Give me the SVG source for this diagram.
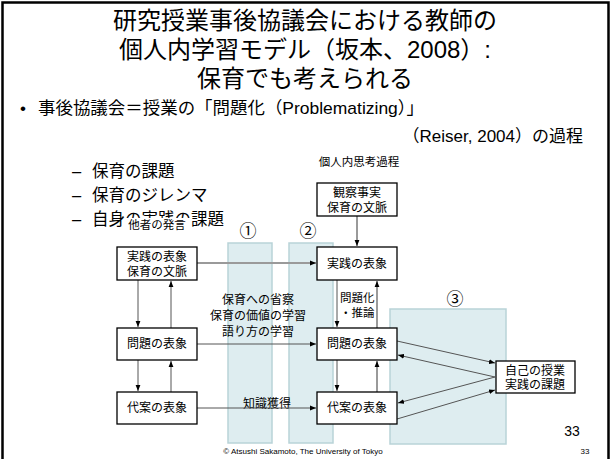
<svg xmlns="http://www.w3.org/2000/svg" width="610" height="459" viewBox="0 0 610 459">
<style>
text{font-family:"Liberation Sans","Noto Sans CJK JP",sans-serif;fill:#000}
.title{font-size:24px;text-anchor:middle}
.body{font-size:17px}
.sub{font-size:16.5px}
.lbl{font-size:11.5px}
.nt{font-size:12px;text-anchor:middle}
.box{fill:#fff;stroke:#000;stroke-width:1.3}
.zone{fill:#deedf0;stroke:#b9d3d8;stroke-width:1.5}
.c{fill:none;stroke:#555;stroke-width:1}
.g{fill:none;stroke:#9a9a9a;stroke-width:2}
</style>
<defs>
<marker id="ah" viewBox="0 0 10 10" refX="10" refY="5" markerWidth="6" markerHeight="6" orient="auto" markerUnits="userSpaceOnUse">
<path d="M0,1 L10,5 L0,9 z" fill="#000"/>
</marker>
</defs>
<rect x="0" y="0" width="610" height="459" fill="#fff"/>
<rect x="2.5" y="2.5" width="606" height="470" fill="none" stroke="#000" stroke-width="2.5"/>

<g id="title">
<text class="title" x="305" y="29">研究授業事後協議会における教師の</text>
<text class="title" x="305" y="58">個人内学習モデル（坂本、2008）:</text>
<text class="title" x="305" y="87">保育でも考えられる</text>
</g>
<g id="bullets">
<text class="body" x="20" y="114">•</text>
<text class="body" x="38" y="114" textLength="386" lengthAdjust="spacingAndGlyphs">事後協議会＝授業の「問題化（Problematizing）」</text>
<text class="body" x="583" y="142" text-anchor="end">（Reiser, 2004）の過程</text>
<text class="sub" x="72" y="177">–</text>
<text class="sub" x="92" y="177">保育の課題</text>
<text class="sub" x="72" y="201">–</text>
<text class="sub" x="92" y="201">保育のジレンマ</text>
<text class="sub" x="72" y="225">–</text>
<text class="sub" x="92" y="225">自身の実践の課題</text>
</g>

<g id="zones">
<rect class="zone" x="228" y="243" width="44" height="200"/>
<rect class="zone" x="289" y="243" width="44" height="200"/>
<rect class="zone" x="390" y="309" width="116" height="135"/>
<text x="248" y="237" font-size="17" text-anchor="middle">①</text>
<text x="308" y="237" font-size="17" text-anchor="middle">②</text>
<text x="455" y="305" font-size="17" text-anchor="middle">③</text>
</g>

<g id="labels">
<rect x="125" y="218" width="65" height="14" fill="#fff"/>
<text class="lbl" x="157" y="229" text-anchor="middle">他者の発言</text>
<text class="lbl" x="359" y="166" text-anchor="middle">個人内思考過程</text>
<text class="nt" x="258" y="304">保育への省察</text>
<text class="nt" x="258" y="320">保育の価値の学習</text>
<text class="nt" x="258" y="336">語り方の学習</text>
<text class="nt" x="267" y="408">知識獲得</text>
</g>

<g id="connectors">
<line class="g" x1="357" y1="216" x2="357" y2="246" marker-end="url(#ah)"/>
<line class="g" x1="197" y1="263" x2="316" y2="263" marker-end="url(#ah)"/>
<line class="c" x1="197" y1="344" x2="316" y2="344" marker-end="url(#ah)"/>
<line class="c" x1="197" y1="408" x2="316" y2="408" marker-end="url(#ah)"/>
<line class="c" x1="138" y1="280" x2="138" y2="327" marker-end="url(#ah)"/>
<line class="c" x1="171" y1="328" x2="171" y2="281" marker-end="url(#ah)"/>
<line class="c" x1="138" y1="360" x2="138" y2="391" marker-end="url(#ah)"/>
<line class="c" x1="171" y1="392" x2="171" y2="361" marker-end="url(#ah)"/>
<line class="c" x1="337" y1="280" x2="337" y2="327" marker-end="url(#ah)"/>
<line class="g" x1="377" y1="328" x2="377" y2="281" marker-end="url(#ah)"/>
<line class="c" x1="337" y1="360" x2="337" y2="391" marker-end="url(#ah)"/>
<line class="g" x1="377" y1="392" x2="377" y2="361" marker-end="url(#ah)"/>
<line class="c" x1="397" y1="341" x2="495" y2="363" marker-end="url(#ah)"/>
<line class="c" x1="495" y1="377" x2="398" y2="355" marker-end="url(#ah)"/>
<line class="c" x1="495" y1="377" x2="398" y2="403" marker-end="url(#ah)"/>
<line class="c" x1="397" y1="419" x2="495" y2="390" marker-end="url(#ah)"/>
<text class="lbl" x="340" y="302">問題化</text>
<text class="lbl" x="340" y="317">・推論</text>
</g>

<g id="n-obs">
<rect class="box" x="317" y="183" width="80" height="33"/>
<text class="nt" x="357" y="197">観察事実</text>
<text class="nt" x="357" y="212">保育の文脈</text>
</g>
<g id="n-left-practice">
<rect class="box" x="117" y="247" width="80" height="33"/>
<text class="nt" x="157" y="261">実践の表象</text>
<text class="nt" x="157" y="276">保育の文脈</text>
</g>
<g id="n-left-problem">
<rect class="box" x="117" y="328" width="80" height="32"/>
<text class="nt" x="157" y="348">問題の表象</text>
</g>
<g id="n-left-alt">
<rect class="box" x="117" y="392" width="80" height="32"/>
<text class="nt" x="157" y="412">代案の表象</text>
</g>
<g id="n-right-practice">
<rect class="box" x="317" y="247" width="80" height="33"/>
<text class="nt" x="357" y="268">実践の表象</text>
</g>
<g id="n-right-problem">
<rect class="box" x="317" y="328" width="80" height="32"/>
<text class="nt" x="357" y="348">問題の表象</text>
</g>
<g id="n-right-alt">
<rect class="box" x="317" y="392" width="80" height="32"/>
<text class="nt" x="357" y="412">代案の表象</text>
</g>
<g id="n-self">
<rect class="box" x="496" y="361" width="79" height="32"/>
<text class="nt" x="535" y="375">自己の授業</text>
<text class="nt" x="535" y="389">実践の課題</text>
</g>

<g id="footer">
<text x="303" y="454" font-size="8" text-anchor="middle">© Atsushi Sakamoto, The University of Tokyo</text>
<text x="572" y="436" font-size="14" text-anchor="middle">33</text>
<text x="585" y="454" font-size="8" text-anchor="middle">33</text>
</g>
</svg>
